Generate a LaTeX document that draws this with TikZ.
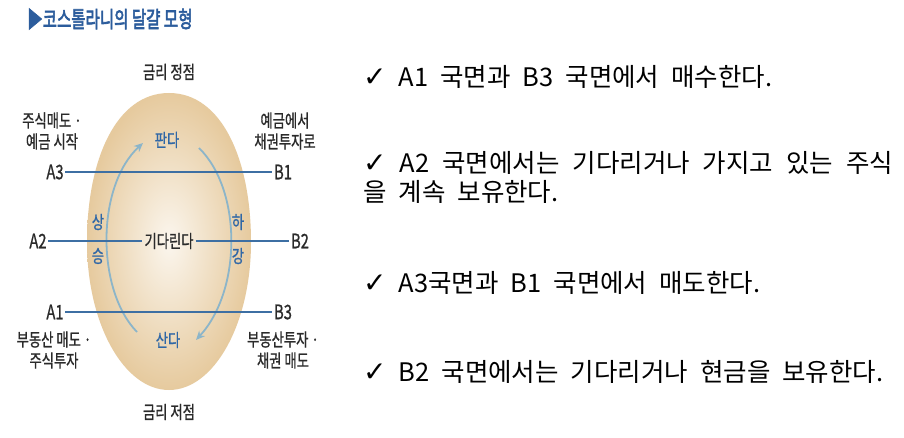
\documentclass[tikz,border=0pt]{standalone}
\usepackage{fontspec}
\usepackage{graphicx}
\usetikzlibrary{arrows.meta}
\setmainfont{Noto Sans CJK KR}
\newfontfamily\kr[WordSpace=2.1]{Noto Sans CJK KR}
\newfontfamily\krm[FakeBold=1]{Noto Sans CJK KR}
\newfontfamily\krb[FakeBold=3]{Noto Sans CJK KR}
\newfontfamily\dv{DejaVu Sans}
\definecolor{titleblue}{HTML}{2B5C9C}
\definecolor{lineblue}{HTML}{3D6FA3}
\definecolor{labblue}{HTML}{2F67A6}
\definecolor{arrblue}{HTML}{8CB5C9}
\definecolor{egglight}{HTML}{FBF6EE}
\definecolor{eggdark}{HTML}{E6CA9E}
\definecolor{txt}{HTML}{2A2A2A}
\newcommand\cz[1]{\scalebox{0.74}[1]{#1}}
\newcommand\chk{{\dv\fontsize{28}{30}\selectfont ✓}}
\tikzset{
  lab/.style={inner sep=1pt, text=txt, font=\krm\fontsize{18}{20}\selectfont, align=center},
  code/.style={inner sep=1.5pt, text=txt, font=\krm\fontsize{20}{22}\selectfont},
  blab/.style={inner sep=1pt, text=labblue, font=\krm\fontsize{18}{20}\selectfont},
  hline/.style={draw=lineblue, line width=1.4pt},
  arr/.style={draw=arrblue, line width=1.8pt, -{Stealth[length=9pt,width=8pt]}},
  rt/.style={inner sep=0pt, text=black, font=\kr\fontsize{25.5}{28}\selectfont, anchor=west}
}
\begin{document}
\begin{tikzpicture}[x=1pt,y=-1pt]
\useasboundingbox (0,0) rectangle (904,438);
\fill[white] (0,0) rectangle (904,438);
% title
\node[inner sep=0pt, anchor=west, text=titleblue, font=\krb\fontsize{22.5}{24}\selectfont] (title) at (27,19) {\scalebox{0.69}[1]{▶코스톨라니의 달걀 모형}};
% egg
\path[inner color=egglight, outer color=eggdark]
  (169,93) .. controls (222,93) and (251,160) .. (251,242)
  .. controls (251,324) and (214,390) .. (169,390)
  .. controls (124,390) and (87,324) .. (87,242)
  .. controls (87,160) and (116,93) .. (169,93);
% arrows
\draw[arr] (137,332) .. controls (96,290) and (96,186) .. (143,143);
\draw[arr] (199,148) .. controls (242,190) and (242,290) .. (196,340);
% labels
\node[lab] (top) at (169,72) {\cz{금리 정점}};
\node[lab] (bot) at (169,412) {\cz{금리 저점}};
\node[lab] (tl) at (52,131) {\cz{주식매도 ·}\\[1pt]\cz{예금 시작}};
\node[lab] (tr) at (285,131) {\cz{예금에서}\\[1pt]\cz{채권투자로}};
\node[lab] (bl) at (54,350) {\cz{부동산 매도 ·}\\[1pt]\cz{주식투자}};
\node[lab] (br) at (283,350) {\cz{부동산투자 ·}\\[1pt]\cz{채권 매도}};
\node[code] (A3) at (55,172) {\cz{A3}};
\node[code] (B1) at (283,172) {\cz{B1}};
\node[code] (A2) at (38,241) {\cz{A2}};
\node[code] (B2) at (300,241) {\cz{B2}};
\node[code] (A1) at (55,312) {\cz{A1}};
\node[code] (B3) at (283,312) {\cz{B3}};
\node[lab, inner sep=2pt] (wait) at (169,241) {\cz{기다린다}};
\node[blab] (sell) at (167,140) {\cz{판다}};
\node[blab] (buy) at (168,340) {\cz{산다}};
\node[blab] (up1) at (98,222) {\cz{상}};
\node[blab] (up2) at (98,256) {\cz{승}};
\node[blab] (dn1) at (238,222) {\cz{하}};
\node[blab] (dn2) at (238,256) {\cz{강}};
% lines
\draw[hline] (A3) -- (B1);
\draw[hline] (A2) -- (wait);
\draw[hline] (wait) -- (B2);
\draw[hline] (A1) -- (B3);
% right text
\node[rt] (t1) at (363,77) {\chk\ A1 국면과 B3 국면에서 매수한다.};
\node[rt] (t2) at (363,163) {\makebox[530pt][s]{\chk\ A2 국면에서는 기다리거나 가지고 있는 주식}};
\node[rt] (t2b) at (363,192) {을 계속 보유한다.};
\node[rt] (t3) at (363,283) {\chk\ A3국면과 B1 국면에서 매도한다.};
\node[rt] (t4) at (363,372) {\chk\ B2 국면에서는 기다리거나 현금을 보유한다.};
\end{tikzpicture}
\end{document}
